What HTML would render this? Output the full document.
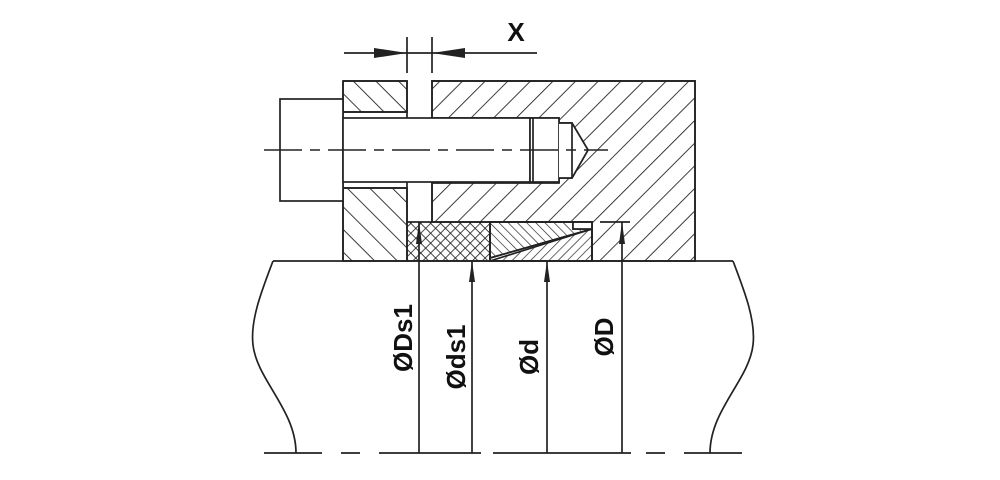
<!DOCTYPE html>
<html><head><style>html,body{margin:0;padding:0;background:#fff;width:1000px;height:480px;overflow:hidden}</style></head>
<body>
<svg width="1000" height="480" viewBox="0 0 1000 480" xmlns="http://www.w3.org/2000/svg">
<defs>
<pattern id="bk" width="16" height="16" patternUnits="userSpaceOnUse" patternTransform="rotate(-45)"><line x1="0" y1="0" x2="0" y2="16" stroke="#1a1a1a" stroke-width="1.7"/></pattern>
<pattern id="fw" width="16" height="16" patternUnits="userSpaceOnUse" patternTransform="rotate(45)"><line x1="0" y1="0" x2="0" y2="16" stroke="#1a1a1a" stroke-width="1.7"/></pattern>
<pattern id="wbk" width="6.5" height="6.5" patternUnits="userSpaceOnUse" patternTransform="rotate(-45)"><line x1="0" y1="0" x2="0" y2="6.5" stroke="#1a1a1a" stroke-width="1.3"/></pattern>
<pattern id="wfw" width="6.5" height="6.5" patternUnits="userSpaceOnUse" patternTransform="rotate(45)"><line x1="0" y1="0" x2="0" y2="6.5" stroke="#1a1a1a" stroke-width="1.3"/></pattern>
<pattern id="xh" width="7" height="7" patternUnits="userSpaceOnUse" patternTransform="rotate(45)"><line x1="0" y1="0" x2="0" y2="7" stroke="#1a1a1a" stroke-width="1.6"/><line x1="0" y1="0" x2="7" y2="0" stroke="#1a1a1a" stroke-width="1.6"/></pattern>
</defs>
<g stroke="#222" stroke-width="1.7" fill="none">
<rect x="343" y="81" width="64" height="31" fill="url(#bk)"/>
<rect x="343" y="188" width="64" height="73" fill="url(#bk)"/>
<path d="M432 81 H695 V261 H592 V222 H432 V183 H559 V178 H572 L588 150 L572 123 H559 V118 H432 Z" fill="url(#fw)"/>
<line x1="432" y1="123" x2="559" y2="123"/>
<line x1="432" y1="178" x2="559" y2="178"/>
<rect x="407" y="222" width="83" height="39" fill="url(#xh)"/>
<path d="M490 222 H573 V229 H592 L490 258 Z" fill="url(#wbk)"/>
<path d="M490 261 L592 229 V261 Z" fill="url(#wfw)"/>
<rect x="573" y="222" width="19" height="7" fill="#fff"/>
<rect x="490" y="222" width="102" height="39"/>
<line x1="490" y1="258" x2="592" y2="229"/>
<path d="M343 81 H407 V222 M432 222 V81 H695 V261"/>
<path d="M343 81 V261"/>
<line x1="343" y1="112" x2="407" y2="112"/>
<line x1="343" y1="188" x2="407" y2="188"/>
<rect x="280" y="99" width="63" height="102" fill="#fff"/>
<rect x="343" y="118" width="187" height="64" fill="#fff"/>
<rect x="530" y="118" width="29" height="64" fill="#fff"/>
<line x1="533" y1="118" x2="533" y2="182"/>
<path d="M559 123 H572 L588 150 L572 178 H559" fill="#fff"/>
<line x1="572" y1="123" x2="572" y2="178"/>
<path d="M264 150 H608" stroke-dasharray="38 8 10 8" stroke-width="1.4"/>
<line x1="344" y1="53" x2="537" y2="53"/>
<line x1="407" y1="37" x2="407" y2="73"/>
<line x1="432" y1="37" x2="432" y2="73"/>
<line x1="273" y1="261" x2="733" y2="261"/>
<path d="M273 261 C262 290 250 320 253 345 C257 380 296 410 296 453"/>
<path d="M733 261 C744 290 756 320 753 345 C749 380 710 410 710 453"/>
<path d="M264 453 H322 M341 453 H360 M379 453 H481 M493 453 H631 M646 453 H665 M684 453 H742"/>
<line x1="419" y1="222" x2="419" y2="453"/>
<line x1="472" y1="261" x2="472" y2="453"/>
<line x1="547" y1="261" x2="547" y2="453"/>
<line x1="622" y1="222" x2="622" y2="453"/>
<line x1="600" y1="222" x2="630" y2="222"/>
</g>
<g fill="#222">
<path d="M374 48 L407 53 L374 58 Z"/>
<path d="M465 48 L432 53 L465 58 Z"/>
<path d="M419 222 L416 244 L422 244 Z"/>
<path d="M472 261 L469 282 L475 282 Z"/>
<path d="M547 261 L544 282 L550 282 Z"/>
<path d="M622 222 L619 244 L625 244 Z"/>
</g>
<g font-family="Liberation Sans, sans-serif" font-weight="bold" font-size="26" fill="#111" text-anchor="middle">
<text x="516" y="41">X</text>
<text transform="translate(412,338) rotate(-90)">ØDs1</text>
<text transform="translate(465,357) rotate(-90)">Øds1</text>
<text transform="translate(538,357) rotate(-90)">Ød</text>
<text transform="translate(613,337) rotate(-90)">ØD</text>
</g>
</svg>
</body></html>
